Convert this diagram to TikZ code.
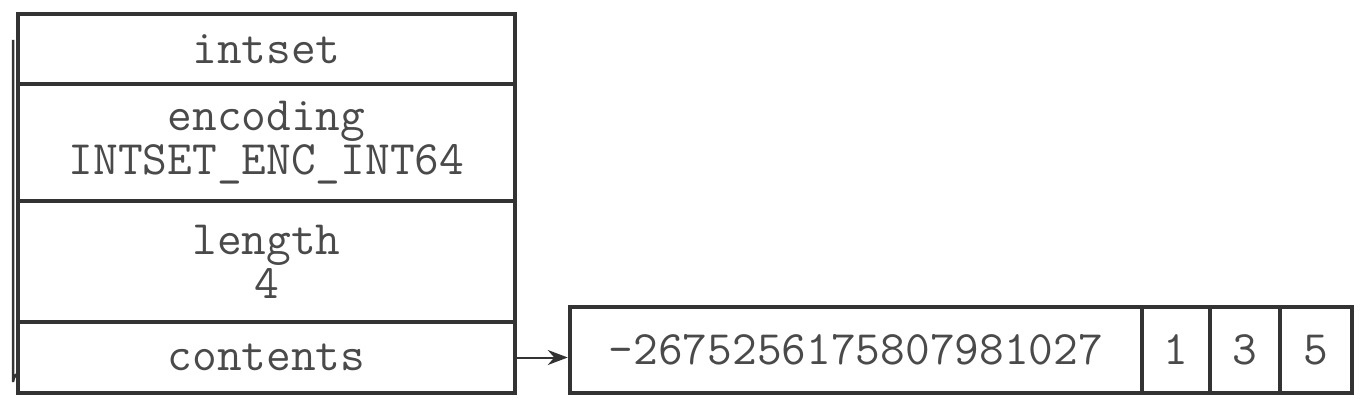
\documentclass[tikz,border=0pt]{standalone}
\usetikzlibrary{arrows.meta}
\definecolor{lc}{HTML}{333333}
\definecolor{tc}{HTML}{4A4A4A}
\begin{document}
\begin{tikzpicture}[x=1pt,y=-1pt,
  cell/.style={draw=lc, line width=4.5pt, fill=white, inner sep=0pt, align=center,
    text=tc, font=\ttfamily\fontsize{48}{44}\selectfont},
  conn/.style={draw=lc, line width=2pt, -{Stealth[length=20pt,width=15pt]}}]
\useasboundingbox[fill=white] (0,0) rectangle (1366,406);
% screenshot edge
\draw[lc, line width=2.5pt] (13,40) -- (13,382) arc[start angle=180,end angle=270,radius=10];
\node[cell, minimum width=497pt, minimum height=70pt] (intset) at (266.5,49) {intset};
\node[cell, minimum width=497pt, minimum height=117pt] (encoding) at (266.5,142.5) {encoding\\INTSET\_ENC\_INT64};
\node[cell, minimum width=497pt, minimum height=121pt] (length) at (266.5,261.5) {length\\4};
\node[cell, minimum width=497pt, minimum height=71pt] (contents) at (266.5,357.5) {contents};
\node[cell, minimum width=572pt, minimum height=86pt] (big) at (856,350) {-2675256175807981027};
\node[cell, minimum width=68pt, minimum height=86pt] (c1) at (1176,350) {1};
\node[cell, minimum width=70pt, minimum height=86pt] (c3) at (1245,350) {3};
\node[cell, minimum width=72pt, minimum height=86pt] (c5) at (1316,350) {5};
\draw[conn] (contents.east) -- (big.west |- contents.east);
\end{tikzpicture}
\end{document}
